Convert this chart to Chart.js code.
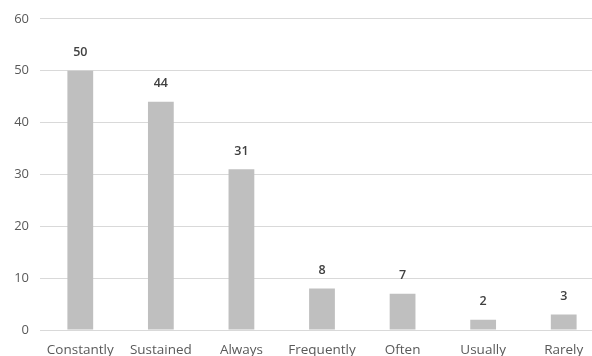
<!DOCTYPE html>
<html>
<head>
<meta charset="utf-8">
<script src="https://cdn.jsdelivr.net/npm/chart.js@4/dist/chart.umd.min.js"></script>
<style>
  html, body { margin: 0; padding: 0; background: #fff; overflow: hidden; }
  #wrap { position: relative; width: 604px; height: 366px; }
</style>
</head>
<body>
<div id="wrap"><canvas id="chart" width="604" height="366"></canvas></div>
<script>
const categories = ["Constantly", "Sustained", "Always", "Frequently", "Often", "Usually", "Rarely"];
const values = [50, 44, 31, 8, 7, 2, 3];
const yTicks = [0, 10, 20, 30, 40, 50, 60];

const textColor = "#595959";
const fontFamily = "'Open Sans', 'Noto Sans', sans-serif";

// draw the value above each bar
const valueLabels = {
  id: "valueLabels",
  afterDatasetsDraw(chart) {
    const ctx = chart.ctx;
    const meta = chart.getDatasetMeta(0);
    ctx.save();
    ctx.fillStyle = "#404040";
    ctx.font = "600 12.5px " + fontFamily;
    ctx.textAlign = "center";
    ctx.textBaseline = "middle";
    meta.data.forEach((bar, i) => {
      ctx.fillText(values[i], bar.x, bar.y - 18);
    });
    ctx.restore();
  }
};

new Chart(document.getElementById("chart"), {
  type: "bar",
  data: {
    labels: categories,
    datasets: [{
      data: values,
      backgroundColor: "#BFBFBF",
      borderWidth: 0,
      barPercentage: 1,
      categoryPercentage: 0.32
    }]
  },
  options: {
    responsive: false,
    animation: false,
    layout: { padding: { top: 12, right: 0, left: 0, bottom: 0 } },
    plugins: { legend: { display: false }, tooltip: { enabled: false } },
    scales: {
      x: {
        grid: { display: false },
        border: { display: false },
        ticks: { color: textColor, font: { size: 13.5, family: fontFamily }, padding: 4, maxRotation: 0, autoSkip: false },
        afterFit(scale) { scale.height = 36; }
      },
      y: {
        min: 0,
        max: 60,
        afterBuildTicks(scale) { scale.ticks = yTicks.map(v => ({ value: v })); },
        grid: { color: "#D9D9D9", lineWidth: 1, drawTicks: false },
        border: { display: false },
        ticks: { color: textColor, font: { size: 13, family: fontFamily }, padding: 11 },
        afterFit(scale) { scale.width = 40; }
      }
    }
  },
  plugins: [valueLabels]
});
</script>
</body>
</html>
